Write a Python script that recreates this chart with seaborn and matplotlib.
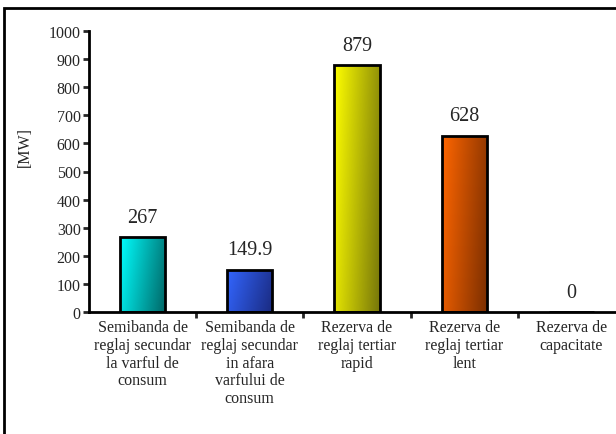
import numpy as np
import pandas as pd
import matplotlib
matplotlib.use("Agg")
import matplotlib.pyplot as plt
import seaborn as sns
from matplotlib.colors import LinearSegmentedColormap
from matplotlib.patches import Rectangle

categories = [
    "Semibanda de\nreglaj secundar\nla varful de\nconsum",
    "Semibanda de\nreglaj secundar\nin afara\nvarfului de\nconsum",
    "Rezerva de\nreglaj tertiar\nrapid",
    "Rezerva de\nreglaj tertiar\nlent",
    "Rezerva de\ncapacitate",
]
values = [267, 149.9, 879, 628, 0]
value_labels = ["267", "149.9", "879", "628", "0"]
yticks = [0, 100, 200, 300, 400, 500, 600, 700, 800, 900, 1000]
light_colors = ["#00ffff", "#3366ff", "#ffff00", "#ff6600", "#999999"]
dark_colors = ["#006666", "#1a2a80", "#77770a", "#7a2e00", "#444444"]

sns.set_style("white")
plt.rcParams["font.family"] = ["Liberation Serif", "DejaVu Serif"]

df = pd.DataFrame({"cat": categories, "val": values})

fig = plt.figure(figsize=(6.16, 4.35), dpi=100)
ax = fig.add_axes([89 / 616, 1 - 313 / 435, (625 - 89) / 616, (313 - 32) / 435])

sns.barplot(data=df, x="cat", y="val", hue="cat", palette=light_colors,
            edgecolor="black", linewidth=2, width=0.42, legend=False, ax=ax,
            saturation=1)

ax.set_ylim(0, 1000)
ax.set_xlim(-0.5, 4.5)

# gradient fills
for i, p in enumerate(ax.patches):
    h = p.get_height()
    if h <= 0:
        continue
    x0, y0 = p.get_x(), p.get_y()
    w = p.get_width()
    cmap = LinearSegmentedColormap.from_list("g", [light_colors[i], dark_colors[i]])
    gx, gy = np.meshgrid(np.linspace(0, 1, 64), np.linspace(0, 1, 64))
    grad = 0.8 * gx + 0.2 * gy
    im = ax.imshow(grad, extent=[x0, x0 + w, y0, y0 + h], cmap=cmap,
                   aspect="auto", zorder=p.get_zorder() - 0.1, origin="upper")
    im.set_clip_path(p)
    p.set_facecolor("none")
ax.set_aspect("auto")
ax.set_xlim(-0.5, 4.5)
ax.set_ylim(0, 1000)

# value labels
for i, (v, lab) in enumerate(zip(values, value_labels)):
    ax.annotate(lab, (i, v), xytext=(0, 7.5), textcoords="offset points",
                ha="center", va="bottom", fontsize=14.5)

ax.set_yticks(yticks)
ax.set_yticklabels([str(t) for t in yticks], fontsize=11.5)
ax.tick_params(axis="y", direction="out", length=4, width=2, pad=2, left=True)
ax.set_xticks(range(len(categories)))
ax.set_xticklabels(categories, fontsize=11.5, linespacing=1.15)
ax.tick_params(axis="x", which="major", length=0, pad=5)
ax.set_xticks([0.5, 1.5, 2.5, 3.5], minor=True)
ax.tick_params(axis="x", which="minor", direction="out", length=4, width=2, bottom=True)

ax.set_xlabel("")
ax.set_ylabel("[MW]", fontsize=11.5)
ax.yaxis.set_label_coords(-0.105, 0.59)

for s in ["top", "right"]:
    ax.spines[s].set_visible(False)
for s in ["left", "bottom"]:
    ax.spines[s].set_color("black")
    ax.spines[s].set_linewidth(2)

# outer frame
fig.patches.append(Rectangle((3.5 / 616, -0.1), 1.2, 1 - 8.5 / 435 + 0.1,
                             transform=fig.transFigure, fill=False,
                             edgecolor="black", linewidth=2, clip_on=False))

fig.savefig("out.png", dpi=100)
